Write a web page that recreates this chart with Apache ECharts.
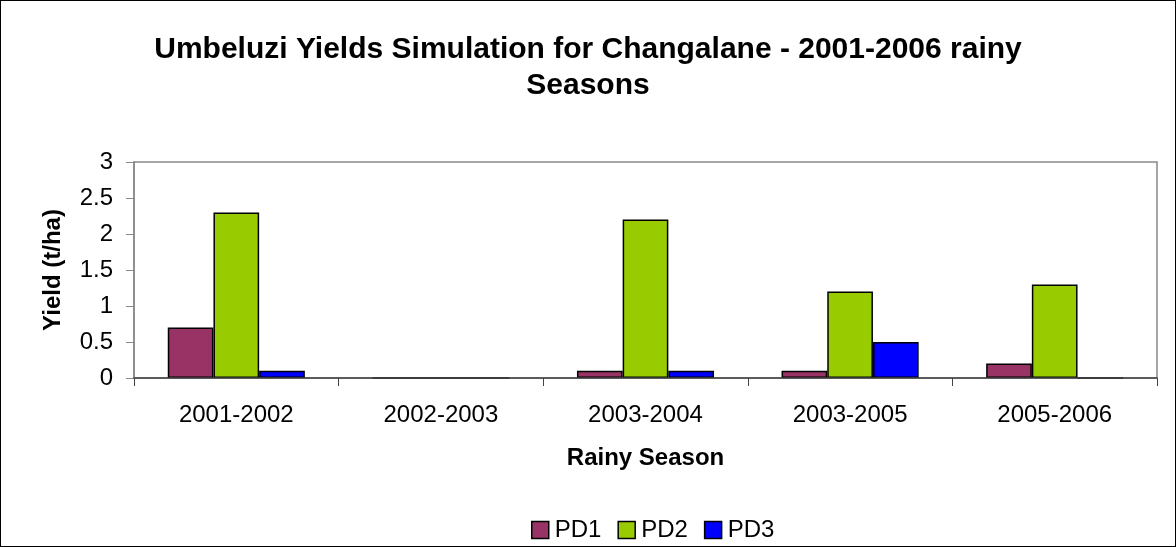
<!DOCTYPE html>
<html>
<head>
<meta charset="utf-8">
<script src="https://cdn.jsdelivr.net/npm/echarts@6/dist/echarts.min.js"></script>
<style>
  html, body { margin: 0; padding: 0; background: #fff; }
  #chart { width: 1176px; height: 547px; box-sizing: border-box; border: 1px solid #000; }
</style>
</head>
<body>
<div id="chart"></div>
<script>
// seasons on the x axis
var seasons = ['2001-2002', '2002-2003', '2003-2004', '2003-2005', '2005-2006'];
// yields (t/ha) per planting date
var pd1 = [0.7, 0, 0.1, 0.1, 0.2];
var pd2 = [2.3, 0, 2.2, 1.2, 1.3];
var pd3 = [0.1, 0, 0.1, 0.5, 0];
var yTicks = [0, 0.5, 1, 1.5, 2, 2.5, 3];

var myChart = echarts.init(document.getElementById('chart'));
var font = 'Liberation Sans, Arial, sans-serif';

function bar(name, data, color) {
    return {
        name: name,
        type: 'bar',
        data: data,
        barGap: '0%',
        barCategoryGap: '33%',
        itemStyle: { color: color, borderColor: '#000', borderWidth: 1.5 }
    };
}

var option = {
    animation: false,
    textStyle: { fontFamily: font },
    title: {
        text: 'Umbeluzi Yields Simulation for Changalane - 2001-2006 rainy\nSeasons',
        left: 'center',
        top: 26,
        textStyle: { fontFamily: font, fontSize: 30, fontWeight: 'bold', color: '#000', lineHeight: 36 }
    },
    legend: {
        top: 512,
        left: 525,
        itemWidth: 17,
        itemHeight: 17,
        itemGap: 16,
        icon: 'rect',
        textStyle: { fontFamily: font, fontSize: 24, color: '#000', padding: [0, 0, 0, 1] },
        itemStyle: { borderColor: '#000', borderWidth: 1.5 }
    },
    grid: { left: 133, right: 18, top: 161, bottom: 168, show: true, borderColor: '#888', borderWidth: 1.5 },
    xAxis: {
        type: 'category',
        data: seasons,
        z: 5,
        name: 'Rainy Season',
        nameLocation: 'middle',
        nameGap: 68,
        nameTextStyle: { fontFamily: font, fontSize: 24, fontWeight: 'bold', color: '#000' },
        axisLine: { lineStyle: { color: '#444', width: 1.5 } },
        axisTick: { show: true, length: 8, lineStyle: { color: '#444' } },
        axisLabel: { fontFamily: font, fontSize: 24, color: '#000', margin: 25 }
    },
    yAxis: {
        type: 'value',
        min: yTicks[0],
        max: yTicks[yTicks.length - 1],
        interval: 0.5,
        name: 'Yield (t/ha)',
        nameLocation: 'middle',
        nameGap: 69,
        nameTextStyle: { fontFamily: font, fontSize: 24, fontWeight: 'bold', color: '#000' },
        axisLine: { show: true, lineStyle: { color: '#888', width: 1.5 } },
        axisTick: { show: true, inside: false, length: 8, lineStyle: { color: '#888' } },
        splitLine: { show: false },
        axisLabel: { fontFamily: font, fontSize: 24, color: '#000', margin: 21 }
    },
    series: [
        bar('PD1', pd1, '#993366'),
        bar('PD2', pd2, '#99CC00'),
        bar('PD3', pd3, '#0000FF')
    ]
};

myChart.setOption(option);
</script>
</body>
</html>
